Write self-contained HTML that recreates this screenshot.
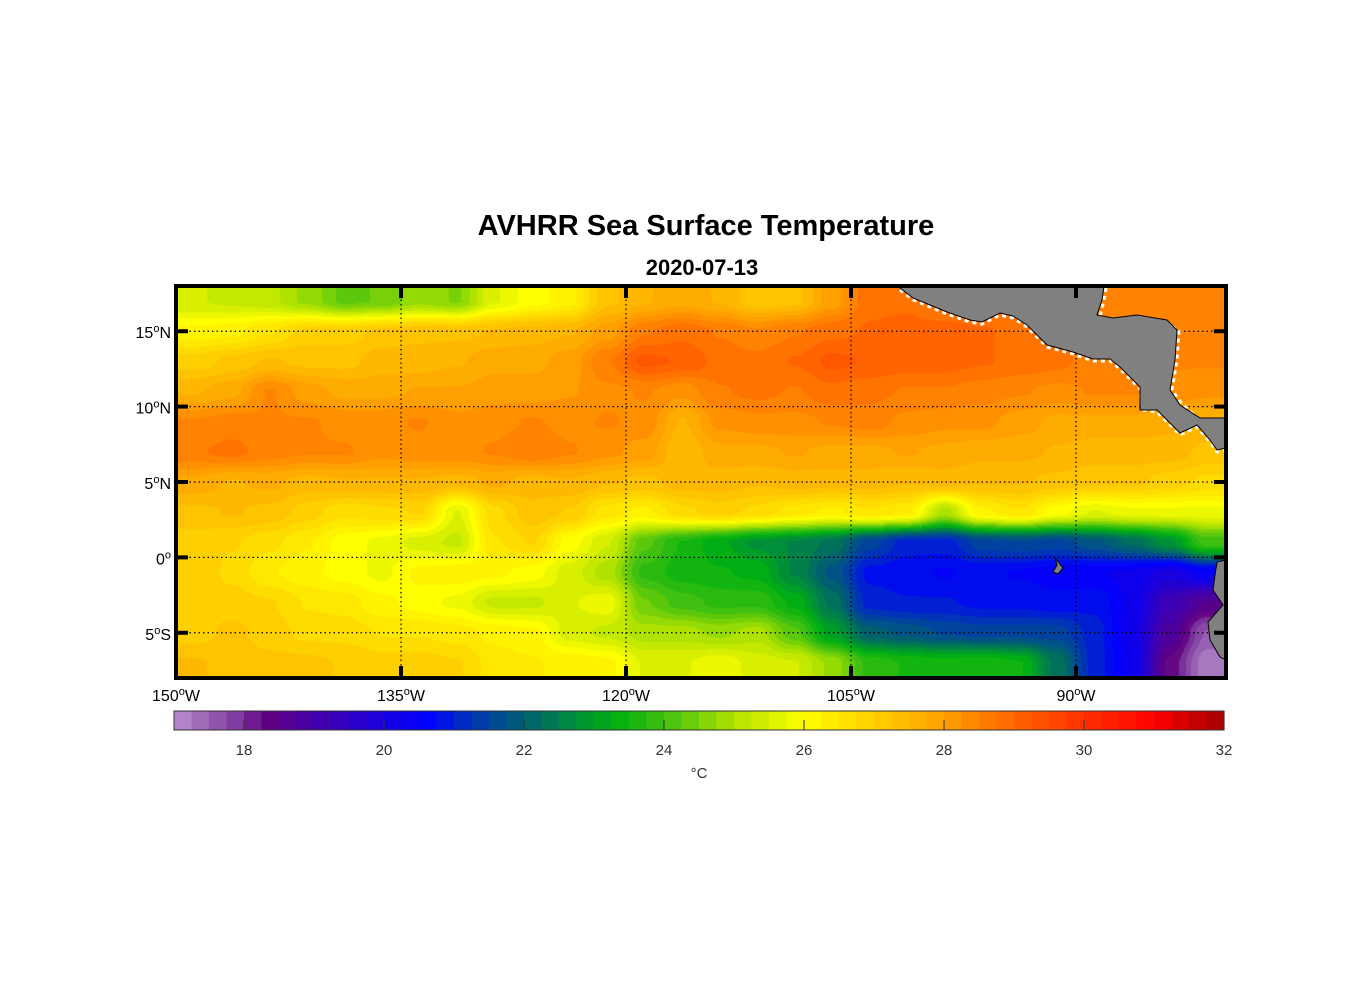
<!DOCTYPE html>
<html><head><meta charset="utf-8"><style>
html,body{margin:0;padding:0;background:#fff;}
#wrap{position:relative;width:1356px;height:1000px;}
#heatcv{position:absolute;left:176px;top:286px;}
svg{position:absolute;left:0;top:0;display:block;font-family:"Liberation Sans",Arial,sans-serif;}
</style></head><body>
<div id="wrap">
<canvas id="heatcv" width="1050" height="392"></canvas>
<svg id="chart" width="1356" height="1000" viewBox="0 0 1356 1000">
<defs>
<clipPath id="mapclip"><rect x="176" y="286" width="1050" height="392"/></clipPath>
</defs>
<text x="706" y="235" text-anchor="middle" font-size="29" font-weight="bold" fill="#000">AVHRR Sea Surface Temperature</text>
<text x="702" y="275" text-anchor="middle" font-size="22" font-weight="bold" fill="#000">2020-07-13</text>
<g clip-path="url(#mapclip)">
<g id="grid"></g>
<g stroke="#000" stroke-width="1" fill="#808080">
<polyline fill="none" stroke="#fff" stroke-width="3" stroke-dasharray="4,4" points="900,290 913,300 930,307 947,314 970,322 982,324 1000,315 1013,318 1027,327 1047,347 1073,354 1093,361 1110,361 1120,369 1140,389 1142,410 1157,412 1170,425 1180,435 1197,427 1210,442 1217,452 1226,450"/>
<polyline fill="none" stroke="#fff" stroke-width="3" stroke-dasharray="4,4" points="1106,288 1104,300 1100,317 1113,320 1137,317 1166,322 1179,331 1177,360 1172,390 1182,404 1200,420 1226,420"/>
<polygon points="898,286 1104,286 1102,300 1097,315 1113,318 1137,315 1167,320 1177,330 1175,360 1170,390 1180,405 1200,418 1226,418 1226,448 1217,450 1210,440 1197,425 1180,433 1170,423 1157,410 1140,410 1140,387 1120,367 1110,359 1093,359 1073,352 1047,345 1027,325 1013,316 1000,313 982,322 970,320 947,312 930,305 913,298 900,288"/>
<polygon points="1226,560 1217,562 1215,575 1213,590 1223,605 1208,622 1210,640 1220,657 1226,660"/>
<polygon points="1055,558 1063,568 1058,574 1053,572 1057,565"/>
</g>
</g>
<rect x="176" y="286" width="1050" height="392" fill="none" stroke="#000" stroke-width="4"/>
<g id="axes"></g>
<g id="cbar"></g>
<text x="699" y="778" text-anchor="middle" font-size="15" fill="#333">°C</text>
</svg>
</div>
<script>
const lonEdges = [-150, -80];
const latEdges = [18, -8];
const colLons = [-148.75,-146.25,-143.75,-141.25,-138.75,-136.25,-133.75,-131.25,-128.75,-126.25,-123.75,-121.25,-118.75,-116.25,-113.75,-111.25,-108.75,-106.25,-103.75,-101.25,-98.75,-96.25,-93.75,-91.25,-88.75,-86.25,-83.75,-81.25];
const rowLats = [17,15,13,11,9,7,5,3,1,-1,-3,-5,-7];
const sst17 = [25.4,25.3,25.2,24.8,24.3,24.4,24.8,24.6,25.6,26.0,26.3,27.3,27.6,27.8,27.6,27.2,27.3,28.0,28.8,28.8,28.5,28.5,28.5,28.5,28.5,28.6,28.6,28.4];
const sst15 = [26.2,26.3,26.6,27.0,27.0,27.2,27.3,27.3,27.4,27.5,27.6,28.0,28.6,28.8,28.6,28.4,28.6,28.8,28.9,29.0,29.0,28.9,28.8,28.7,28.5,28.5,28.5,28.5];
const sst13 = [27.0,27.2,27.4,27.3,27.3,27.5,27.5,27.6,27.8,27.8,28.0,28.6,29.2,29.1,28.8,28.7,28.9,29.2,29.1,29.0,29.0,28.9,28.8,28.7,28.5,28.5,28.4,28.4];
const sst11 = [27.6,27.8,28.4,28.0,27.8,27.8,27.9,27.9,28.0,28.0,28.1,28.3,28.4,28.2,28.6,28.7,28.6,28.8,28.7,28.6,28.6,28.5,28.4,28.3,28.4,28.4,28.3,28.2];
const sst9 = [28.4,28.5,28.4,28.4,28.3,28.3,28.4,28.2,28.3,28.4,28.3,28.4,28.3,27.6,28.2,28.3,28.3,28.4,28.5,28.3,28.2,28.2,28.0,27.8,27.8,27.8,27.7,27.6];
const sst7 = [28.6,28.7,28.5,28.4,28.4,28.2,28.3,28.3,28.4,28.6,28.4,28.2,28.0,27.4,27.8,27.8,27.9,27.8,27.8,27.9,27.8,27.7,27.7,27.6,27.5,27.5,27.5,27.3];
const sst5 = [27.8,27.6,27.7,27.5,27.6,27.6,27.6,27.5,27.7,27.5,27.6,27.4,27.3,27.5,27.5,27.4,27.5,27.5,27.5,27.4,27.5,27.4,27.4,27.3,27.2,27.2,27.0,26.8];
const sst3 = [27.3,27.4,27.3,27.0,26.7,26.8,26.9,25.6,26.8,27.3,27.1,26.5,26.3,26.8,27.0,26.8,26.5,26.3,26.6,26.4,25.0,26.3,26.6,26.0,25.6,25.8,25.8,25.8];
const sst1 = [27.0,26.9,26.7,26.4,26.0,25.8,25.5,25.3,26.6,26.9,26.0,25.4,24.2,23.6,23.2,22.8,22.6,22.3,21.5,21.0,21.0,21.5,21.6,21.5,21.8,22.2,22.8,24.0];
const sstS1 = [27.1,26.8,26.4,26.2,26.0,25.8,26.2,26.3,26.2,26.0,25.5,25.0,23.8,23.5,23.4,23.3,22.6,21.8,20.8,20.7,20.6,20.7,20.6,20.5,20.4,20.3,20.0,20.5];
const sstS3 = [27.1,27.0,26.9,26.6,26.5,26.2,26.0,25.8,25.3,25.3,25.6,25.8,24.4,24.0,23.8,23.8,23.3,22.3,21.0,20.9,20.9,20.8,20.8,20.7,20.8,20.3,19.2,18.6];
const sstS5 = [27.0,27.2,27.0,26.8,26.8,26.6,26.6,26.5,26.3,26.2,25.5,25.3,25.0,25.0,24.8,25.0,24.2,23.0,22.0,21.8,21.6,21.5,21.5,21.5,21.0,20.2,18.8,17.6];
const sstS7 = [27.4,27.3,27.2,27.2,27.1,27.0,27.0,26.9,26.5,26.4,26.3,26.2,25.6,25.6,25.8,25.5,25.4,24.8,23.8,23.6,23.5,23.6,23.4,22.3,21.0,20.3,18.3,17.2];
const sstRows = [sst17,sst15,sst13,sst11,sst9,sst7,sst5,sst3,sst1,sstS1,sstS3,sstS5,sstS7];
const lonTicks = [-150,-135,-120,-105,-90];
const lonTickLabels = ["150","135","120","105","90"];
const latTicks = [15,10,5,0,-5];
const latTickLabels = [["15","N"],["10","N"],["5","N"],["0",""],["5","S"]];
const cbarTicks = [18,20,22,24,26,28,30,32];
const cbarRange = [17,32];

const NS = "http://www.w3.org/2000/svg";
const X0=176, X1=1226, Y0=286, Y1=678;
function xLon(l){return X0+(l-lonEdges[0])/(lonEdges[1]-lonEdges[0])*(X1-X0);}
function yLat(l){return Y0+(latEdges[0]-l)/(latEdges[0]-latEdges[1])*(Y1-Y0);}
function lonX(x){return lonEdges[0]+(x-X0)/(X1-X0)*(lonEdges[1]-lonEdges[0]);}
function latY(y){return latEdges[0]-(y-Y0)/(Y1-Y0)*(latEdges[0]-latEdges[1]);}
const stops=[[17,[184,144,204]],[18,[120,48,154]],[18.3,[96,0,128]],[19,[68,0,168]],[20,[24,0,224]],[20.6,[0,0,255]],[21.3,[0,56,176]],[22,[0,96,112]],[22.7,[0,140,60]],[23.3,[0,176,16]],[24,[64,192,16]],[25,[176,226,0]],[26,[255,255,0]],[27,[255,208,0]],[28,[255,160,0]],[29,[255,100,0]],[30,[255,48,0]],[31,[255,0,0]],[32,[160,0,0]]];
function cmapArr(v){
  if(v<=stops[0][0]) return stops[0][1];
  for(let i=1;i<stops.length;i++){ if(v<=stops[i][0]){const a=stops[i-1],b=stops[i];const t=(v-a[0])/(b[0]-a[0]);return a[1].map((c,k)=>c+(b[1][k]-c)*t);}}
  return stops[stops.length-1][1];
}
function cmap(v){return "rgb("+cmapArr(v).map(Math.round).join(",")+")";}
function el(tag,attrs,parent){const e=document.createElementNS(NS,tag);for(const k in attrs)e.setAttribute(k,attrs[k]);parent.appendChild(e);return e;}
function supLabel(t,main,suffix){
  t.appendChild(document.createTextNode(main));
  const s=el('tspan',{dy:-6,'font-size':11},t); s.textContent='o';
  const s2=el('tspan',{dy:6},t); s2.textContent=suffix||' ';
}
function smooth(t){return t*t*(3-2*t);}
function sample(lon,lat){
  const dLon=colLons[1]-colLons[0], dLat=rowLats[0]-rowLats[1];
  let fc=(lon-colLons[0])/dLon, fr=(rowLats[0]-lat)/dLat;
  fc=Math.max(0,Math.min(colLons.length-1.0001,fc));
  fr=Math.max(0,Math.min(rowLats.length-1.0001,fr));
  const c=Math.floor(fc), r=Math.floor(fr);
  const tx=smooth(fc-c), ty=smooth(fr-r);
  const a=sstRows[r][c], b=sstRows[r][c+1], d=sstRows[r+1][c], e=sstRows[r+1][c+1];
  return (a*(1-tx)+b*tx)*(1-ty)+(d*(1-tx)+e*tx)*ty;
}
// heatmap raster drawn from the sst arrays
const cv=document.getElementById('heatcv');
const ctx=cv.getContext('2d');
const img=ctx.createImageData(cv.width,cv.height);
const lut=[];
for(let i=0;i<=1500;i++){lut.push(cmapArr(17+i*0.01));}
for(let py=0;py<cv.height;py++){
  const lat=latY(Y0+py+0.5);
  for(let px=0;px<cv.width;px++){
    const v=sample(lonX(X0+px+0.5),lat);
    const q=Math.round(Math.max(0,Math.min(1500,(Math.round(v*4)/4-17)*100)));
    const col=lut[q];
    const o=(py*cv.width+px)*4;
    img.data[o]=col[0];img.data[o+1]=col[1];img.data[o+2]=col[2];img.data[o+3]=255;
  }
}
ctx.putImageData(img,0,0);

const grid=document.getElementById('grid');
lonTicks.forEach(l=>{const g=el('line',{x1:xLon(l),x2:xLon(l),y1:Y0,y2:Y1,stroke:'#000','stroke-width':1.2,'stroke-dasharray':'1.5,3'},grid);

});
latTicks.forEach(l=>{const g=el('line',{x1:X0,x2:X1,y1:yLat(l),y2:yLat(l),stroke:'#000','stroke-width':1.2,'stroke-dasharray':'1.5,3'},grid);

});

const axes=document.getElementById('axes');
lonTicks.forEach((l,i)=>{
  const x=xLon(l);
  if(i>0){
    const t1=el('line',{x1:x,x2:x,y1:Y0,y2:Y0+12,stroke:'#000','stroke-width':4},axes);
    
    
    const t2=el('line',{x1:x,x2:x,y1:Y1,y2:Y1-12,stroke:'#000','stroke-width':4},axes);
    
    
  }
  const t=el('text',{x:x,y:701,'text-anchor':'middle','font-size':16,fill:'#000'},axes);
  
  
  supLabel(t,lonTickLabels[i],'W');
});
latTicks.forEach((l,i)=>{
  const y=yLat(l);
  const t1=el('line',{x1:X0,x2:X0+12,y1:y,y2:y,stroke:'#000','stroke-width':4},axes);
  
  
  const t2=el('line',{x1:X1,x2:X1-12,y1:y,y2:y,stroke:'#000','stroke-width':4},axes);
  
  
  const t=el('text',{x:171,y:y+7,'text-anchor':'end','font-size':16,fill:'#000'},axes);
  
  
  supLabel(t,latTickLabels[i][0],latTickLabels[i][1]);
});

const cbar=document.getElementById('cbar');
const CX0=174, CX1=1224, CY0=711, CY1=730;
function xC(v){return CX0+(v-cbarRange[0])/(cbarRange[1]-cbarRange[0])*(CX1-CX0);}
const nSteps=60, step=(cbarRange[1]-cbarRange[0])/nSteps;
for(let i=0;i<nSteps;i++){
  const v=cbarRange[0]+i*step;
  const r=el('rect',{x:xC(v),y:CY0,width:xC(v+step)-xC(v)+0.6,height:CY1-CY0,fill:cmap(v+step/2)},cbar);
  
  
}
const fr=el('rect',{x:CX0,y:CY0,width:CX1-CX0,height:CY1-CY0,fill:'none',stroke:'#333','stroke-width':1},cbar);


cbarTicks.forEach(v=>{
  const x=xC(v);
  if(v<cbarRange[1]){
    const tk=el('line',{x1:x,x2:x,y1:CY1,y2:CY1-10,stroke:'#333','stroke-width':1},cbar);
    
    
  }
  const t=el('text',{x:x,y:755,'text-anchor':'middle','font-size':15,fill:'#333'},cbar);
  
  
  t.textContent=v;
});
</script>
</body></html>
